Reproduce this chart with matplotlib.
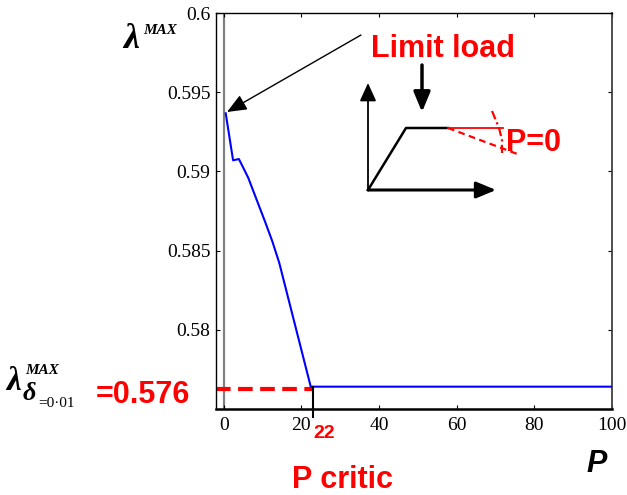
import matplotlib
matplotlib.use('Agg')
import matplotlib.pyplot as plt
from matplotlib.patches import FancyArrowPatch

# curve
P = [0.5, 2.4, 3.9, 6.3, 10.6, 12.5, 14.3, 22.4, 100]
lam = [0.59367, 0.59070, 0.59078, 0.58960, 0.58685, 0.58559, 0.58422, 0.57641, 0.57641]
P_crit = 22.9
lam_crit = 0.57625
xticks = [0, 20, 40, 60, 80, 100]
yticks = [0.58, 0.585, 0.59, 0.595, 0.6]
ytick_labels = ['0.58', '0.585', '0.59', '0.595', '0.6']

W, H = 627, 495
fig = plt.figure(figsize=(W / 100, H / 100), dpi=100)
ax = fig.add_axes([216 / W, 1 - 409 / H, 396 / W, 396 / H])

ax.plot(P, lam, color='#0000ff', lw=1.5, zorder=3)
ax.axvline(0, color='#808080', lw=1.6, zorder=1)
ax.plot([-2, P_crit], [lam_crit, lam_crit], color='red', lw=3, dashes=(3.5, 1.8), zorder=2)
ax.plot([P_crit, P_crit], [lam[-1], 0.5745], color='black', lw=1.5, clip_on=False, zorder=4)

ax.set_xlim(-2, 100)
ax.set_ylim(0.575, 0.6)
ax.set_xticks(xticks)
ax.set_yticks(yticks)
ax.set_yticklabels(ytick_labels)
ax.tick_params(direction='in', length=3, width=0.8, top=True, right=True,
               labelsize=14, pad=4)
ax.tick_params(axis='x', pad=6)
for lab in ax.get_xticklabels() + ax.get_yticklabels():
    lab.set_family('Liberation Serif')
ax.spines['bottom'].set_linewidth(1.8)
ax.spines['left'].set_linewidth(1.0)
ax.spines['top'].set_linewidth(1.0)
ax.spines['right'].set_color('#404040')
ax.spines['right'].set_linewidth(1.3)

# overlay in pixel coordinates for the labels and the little sketch
ov = fig.add_axes([0, 0, 1, 1], zorder=10)
ov.set_xlim(0, W)
ov.set_ylim(H, 0)
ov.axis('off')
ov.patch.set_alpha(0)

red = dict(color='red', family='Liberation Sans', weight='bold', va='baseline', ha='left')
ov.text(371, 57, 'Limit load', fontsize=22, **red)
ov.text(506, 151, 'P=0', fontsize=22, **red)
ov.text(96, 403, '=0.576', fontsize=22, **red)
ov.text(313, 438, '22', fontsize=14, **red)
ov.text(292, 488, 'P critic', fontsize=22, **red)
ov.text(586, 472, 'P', fontsize=22, color='black', family='Liberation Sans',
        weight='bold', style='italic', va='baseline', ha='left')

ser = dict(color='black', family='Liberation Serif', weight='bold', style='italic',
           va='baseline', ha='left')
ov.text(123, 48, 'λ', fontsize=26, **ser)
ov.text(143, 34, 'MAX', fontsize=11, **ser)
ov.text(6, 390, 'λ', fontsize=24, **ser)
ov.text(25, 374, 'MAX', fontsize=11, **ser)
ov.text(23, 400, 'δ', fontsize=19, **ser)
ov.text(38, 407, '=0·01', fontsize=11, color='black', family='Liberation Serif',
        va='baseline', ha='left')

def arrow(x0, y0, x1, y1, lw, head):
    ov.add_patch(FancyArrowPatch((x0, y0), (x1, y1), arrowstyle=head,
                                 lw=lw, color='black', shrinkA=0, shrinkB=0,
                                 mutation_scale=1))

arrow(361, 35, 227, 112, 1.0, '-|>,head_length=12,head_width=5')
arrow(368, 190, 368, 83, 1.3, '-|>,head_length=11,head_width=5')
arrow(368, 190, 496, 190, 2.2, '-|>,head_length=12,head_width=5')
arrow(422, 65, 422, 112, 2.5, '-|>,head_length=12,head_width=5')

ov.plot([368, 406, 448], [190, 128, 128], color='black', lw=1.8)
ov.plot([448, 503], [128, 128], color='red', lw=1.3)
ov.plot([448, 520], [128, 155], color='red', lw=1.6, dashes=(3, 2))
ov.plot([492, 499, 502, 502], [111, 128, 140, 153], color='red', lw=1.6, dashes=(4, 1.5, 1, 1.5))

fig.savefig('out.png', dpi=100)
